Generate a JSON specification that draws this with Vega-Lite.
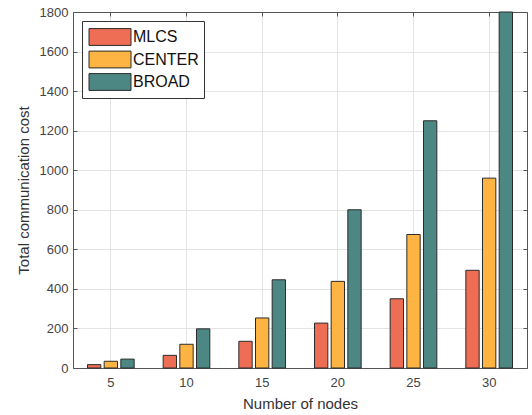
{
  "$schema": "https://vega.github.io/schema/vega-lite/v6.json",
  "autosize": "none",
  "width": 454,
  "height": 356,
  "padding": {"left": 73, "top": 12, "right": 5, "bottom": 47},
  "background": "white",
  "config": {
    "view": {"stroke": null},
    "font": "Liberation Sans",
    "axis": {"labelFont": "Liberation Sans", "titleFont": "Liberation Sans"}
  },
  "data": {
    "values": [
      {"nodes": "5", "method": "MLCS", "cost": 17},
      {"nodes": "5", "method": "CENTER", "cost": 34},
      {"nodes": "5", "method": "BROAD", "cost": 45},
      {"nodes": "10", "method": "MLCS", "cost": 64},
      {"nodes": "10", "method": "CENTER", "cost": 120},
      {"nodes": "10", "method": "BROAD", "cost": 198},
      {"nodes": "15", "method": "MLCS", "cost": 135},
      {"nodes": "15", "method": "CENTER", "cost": 253},
      {"nodes": "15", "method": "BROAD", "cost": 446},
      {"nodes": "20", "method": "MLCS", "cost": 227},
      {"nodes": "20", "method": "CENTER", "cost": 438},
      {"nodes": "20", "method": "BROAD", "cost": 800},
      {"nodes": "25", "method": "MLCS", "cost": 350},
      {"nodes": "25", "method": "CENTER", "cost": 675},
      {"nodes": "25", "method": "BROAD", "cost": 1250},
      {"nodes": "30", "method": "MLCS", "cost": 494},
      {"nodes": "30", "method": "CENTER", "cost": 960},
      {"nodes": "30", "method": "BROAD", "cost": 1800}
    ]
  },
  "layer": [
    {
      "mark": {"type": "bar", "stroke": "#2b2b2b", "strokeWidth": 1},
      "encoding": {
        "x": {
          "field": "nodes", "type": "ordinal", "sort": ["5", "10", "15", "20", "25", "30"],
          "scale": {"paddingInner": 0, "paddingOuter": 0},
          "axis": {
            "orient": "bottom", "title": "Number of nodes", "labelAngle": 0,
            "bandPosition": 0.5, "grid": true, "gridColor": "#e3e3e3", "gridWidth": 1,
            "domainColor": "#555555", "tickColor": "#555555", "tickSize": -4,
            "labelPadding": 12, "labelFontSize": 13, "labelColor": "#444444",
            "titleFontSize": 15, "titleFontWeight": "normal", "titleColor": "#333333", "titlePadding": 7
          }
        },
        "xOffset": {
          "field": "method", "type": "nominal", "sort": ["MLCS", "CENTER", "BROAD"],
          "scale": {"paddingInner": 0.2, "paddingOuter": 0.87}
        },
        "y": {
          "field": "cost", "type": "quantitative",
          "scale": {"domain": [0, 1800], "nice": false},
          "axis": {
            "orient": "left", "title": "Total communication cost", "format": "d",
            "values": [0, 200, 400, 600, 800, 1000, 1200, 1400, 1600, 1800],
            "grid": true, "gridColor": "#e3e3e3", "gridWidth": 1,
            "domainColor": "#555555", "tickColor": "#555555", "tickSize": -4,
            "labelPadding": 9, "labelFontSize": 13, "labelColor": "#444444",
            "titleFontSize": 15, "titleFontWeight": "normal", "titleColor": "#333333", "titlePadding": 8
          }
        },
        "color": {
          "field": "method", "type": "nominal", "sort": ["MLCS", "CENTER", "BROAD"],
          "scale": {"domain": ["MLCS", "CENTER", "BROAD"], "range": ["#EE6E55", "#FDB443", "#4C8784"]},
          "legend": {
            "title": null, "orient": "top-left", "offset": 9,
            "fillColor": "white", "strokeColor": "#333333", "padding": 5,
            "symbolType": "M-2,-0.8L2,-0.8L2,0.8L-2,0.8Z", "symbolSize": 441,
            "symbolOffset": 12,
            "symbolStrokeColor": "#2b2b2b", "symbolStrokeWidth": 1, "symbolOpacity": 1,
            "labelFontSize": 16, "labelColor": "#111111", "labelOffset": 12,
            "rowPadding": 0.5
          }
        }
      }
    },
    {
      "mark": {"type": "bar", "opacity": 0},
      "encoding": {
        "x": {
          "field": "nodes", "type": "ordinal", "sort": ["5", "10", "15", "20", "25", "30"],
          "axis": {
            "orient": "top", "title": null, "labels": false, "bandPosition": 0.5, "grid": false,
            "domainColor": "#555555", "tickColor": "#555555", "tickSize": -4
          }
        },
        "y": {
          "field": "cost", "type": "quantitative",
          "axis": {
            "orient": "right", "title": null, "labels": false, "grid": false,
            "values": [0, 200, 400, 600, 800, 1000, 1200, 1400, 1600, 1800],
            "domainColor": "#555555", "tickColor": "#555555", "tickSize": -4
          }
        }
      }
    }
  ],
  "resolve": {"axis": {"x": "independent", "y": "independent"}}
}
